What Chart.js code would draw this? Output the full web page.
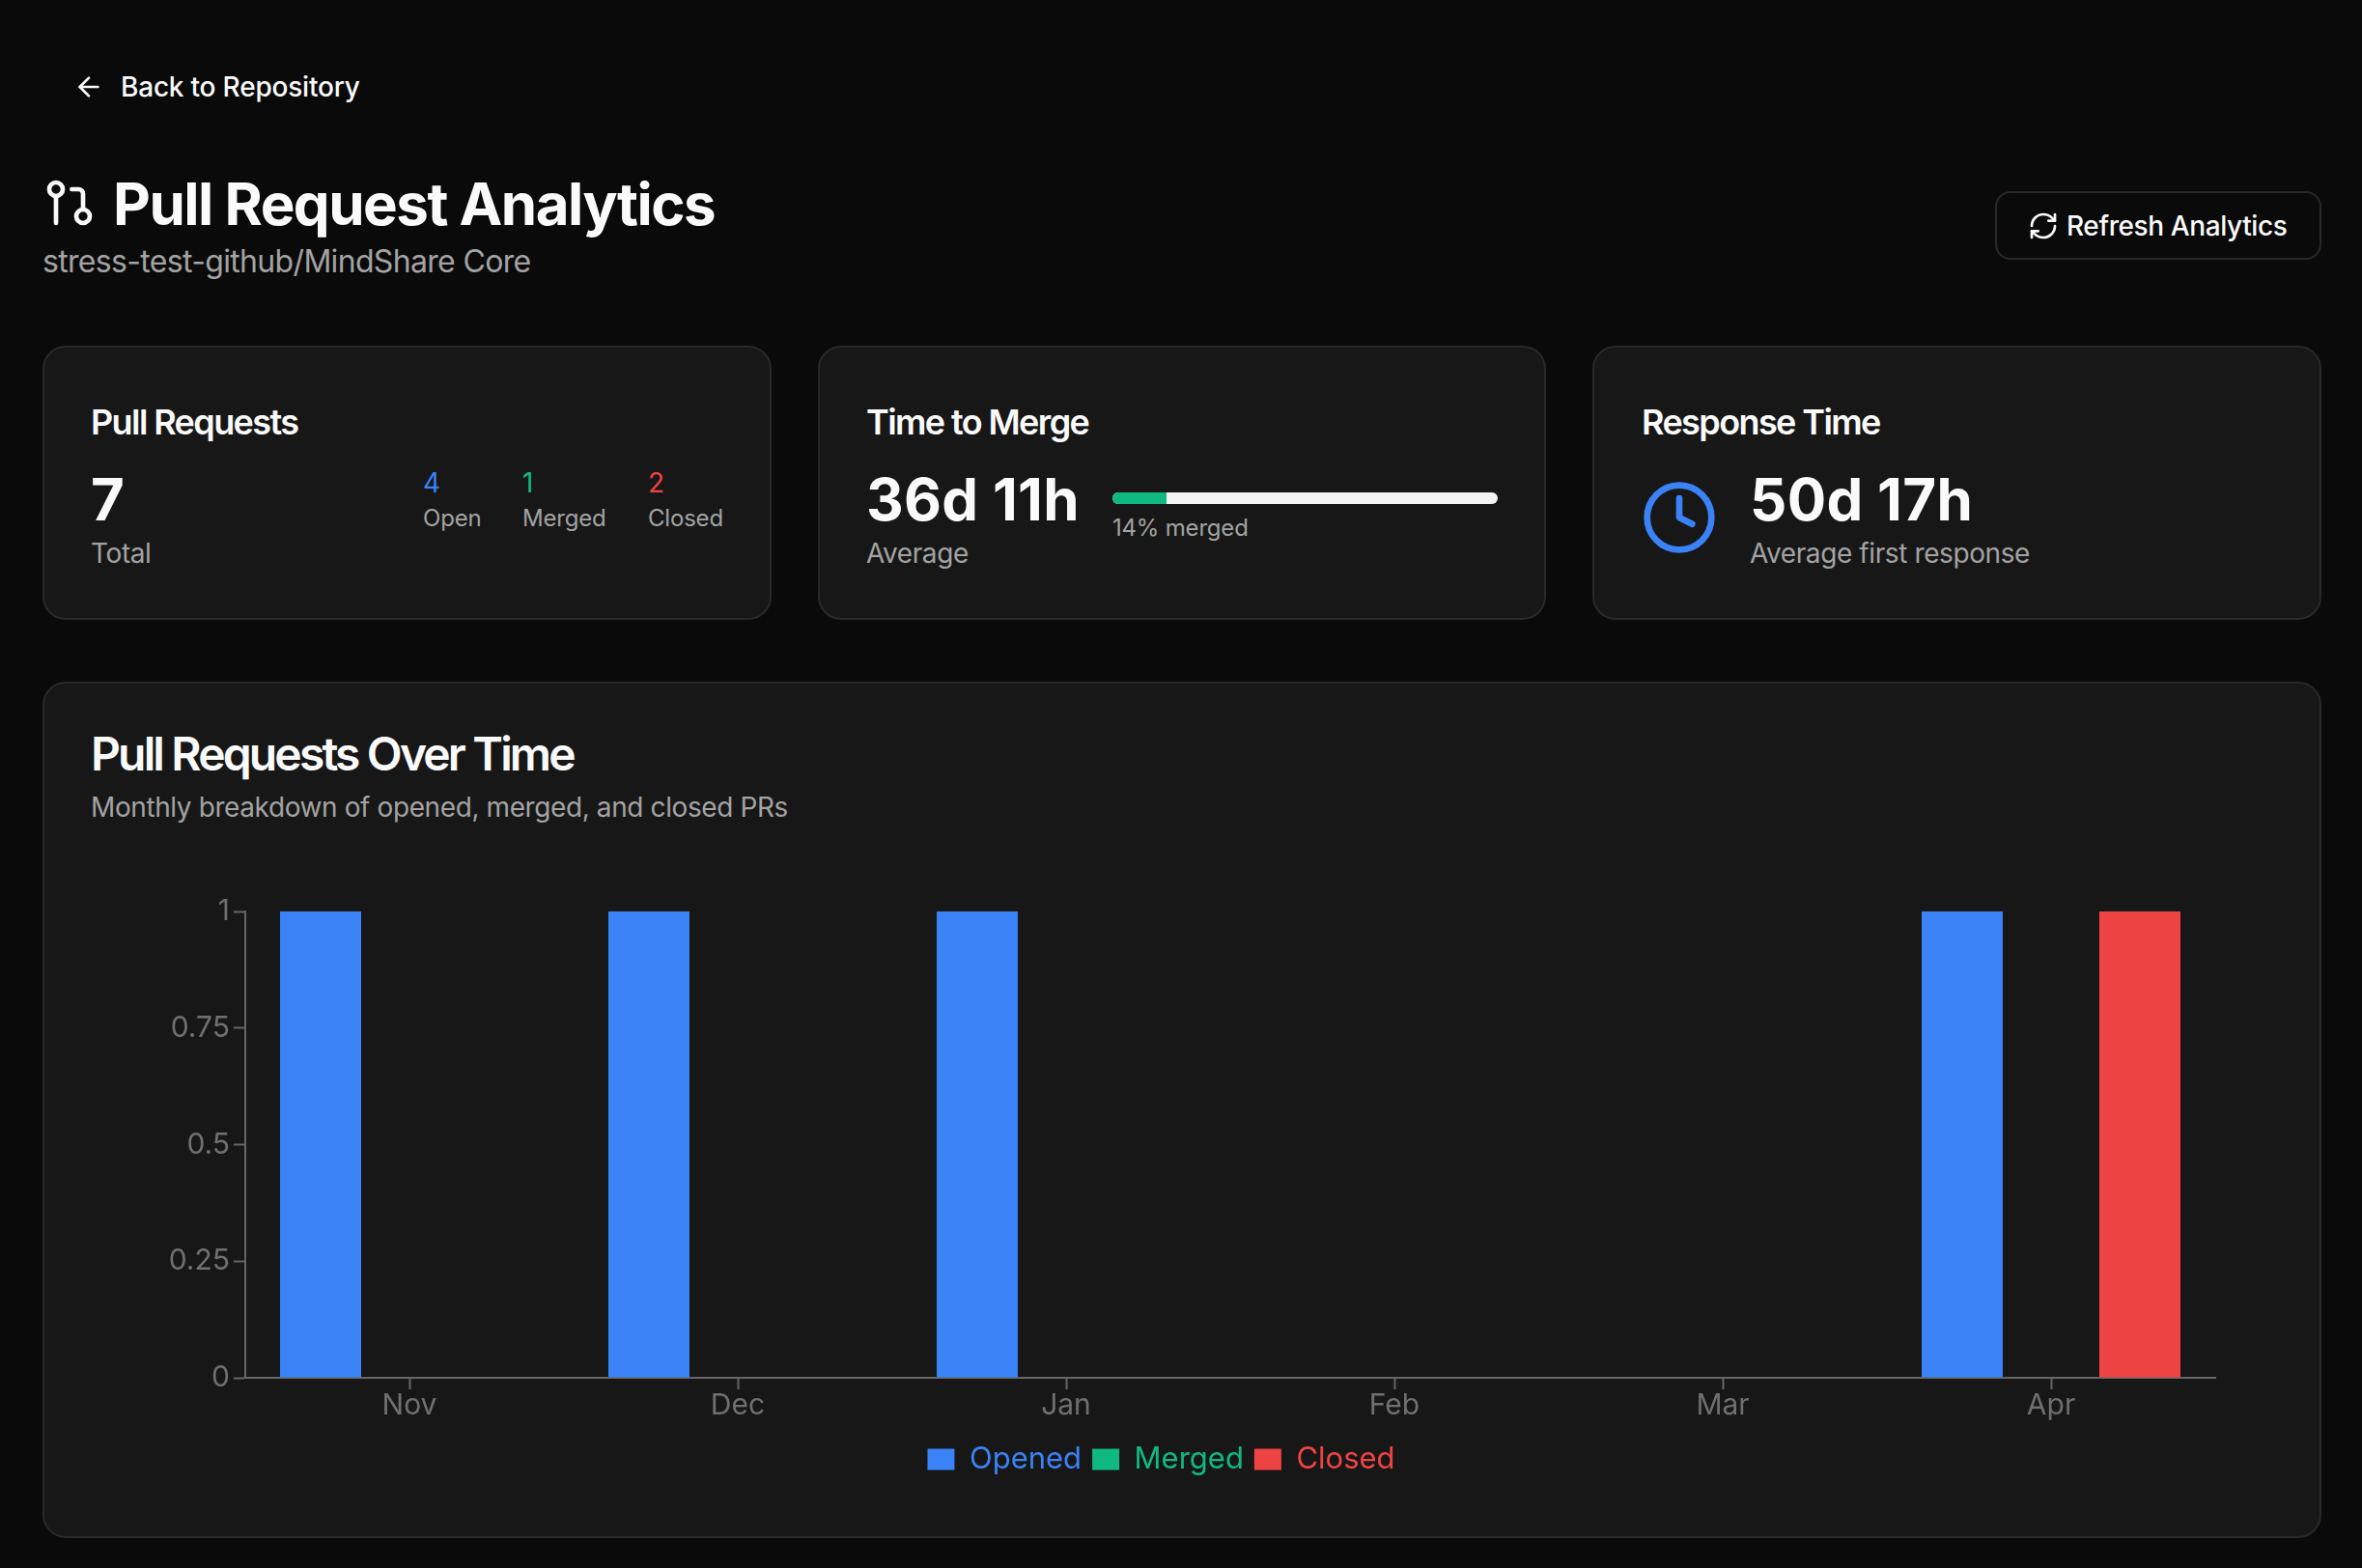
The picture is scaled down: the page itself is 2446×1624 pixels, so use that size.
<!DOCTYPE html>
<html>
<head>
<meta charset="utf-8">
<title>Pull Request Analytics</title>
<script src="https://cdn.jsdelivr.net/npm/chart.js@4/dist/chart.umd.min.js"></script>
<style>
  * { margin: 0; padding: 0; box-sizing: border-box; }
  html, body { width: 2446px; height: 1624px; background: #0a0a0a; overflow: hidden; }
  body { position: relative; font-family: Inter, sans-serif; color: #fafafa; }
  .t { position: absolute; white-space: nowrap; line-height: 1; transform: translateY(-50%); }
  .card { position: absolute; background: #171717; border: 2px solid #292929; border-radius: 24px; }
  .muted { color: #a3a3a3; }
  .card-title { font-size: 36px; font-weight: 600; letter-spacing: -1.6px; }
  .big { font-size: 60px; font-weight: 700; letter-spacing: 0.3px; }
  .sm { font-size: 28px; letter-spacing: -0.4px; }
  .xs { font-size: 24px; letter-spacing: -0.2px; }
  svg { position: absolute; fill: none; stroke-linecap: round; stroke-linejoin: round; stroke-width: 2; }
  #track { position: absolute; left: 1152px; top: 510px; width: 399px; height: 12px; background: #f5f5f5; border-radius: 6px; overflow: hidden; }
  #fill { height: 100%; width: 14%; background: #10b981; }
  #refresh { position: absolute; left: 2066px; top: 198px; width: 338px; height: 71px; border: 2px solid #292929; border-radius: 16px; }
  #chartCanvas { position: absolute; left: 111px; top: 922px; }
</style>
</head>
<body>

<svg style="left:76px;top:74px" width="32" height="32" viewBox="0 0 24 24" stroke="#fafafa"><path d="m12 19-7-7 7-7"/><path d="M19 12H5"/></svg>
<div class="t" style="left:125px;top:90px;font-size:28px;font-weight:500;letter-spacing:-0.2px">Back to Repository</div>

<svg style="left:44px;top:182px" width="56" height="56" viewBox="0 0 24 24" stroke="#fafafa"><circle cx="18" cy="18" r="3"/><circle cx="6" cy="6" r="3"/><path d="M13 6h3a2 2 0 0 1 2 2v7"/><line x1="6" y1="9" x2="6" y2="21"/></svg>
<div class="t" style="left:117px;top:211px;font-size:60px;font-weight:700;letter-spacing:-1.5px">Pull Request Analytics</div>
<div class="t muted" style="left:44px;top:271px;font-size:32px;letter-spacing:-0.67px">stress-test-github/MindShare Core</div>

<div id="refresh"></div>
<svg style="left:2100px;top:218px" width="32" height="32" viewBox="0 0 24 24" stroke="#fafafa"><path d="M3 12a9 9 0 0 1 9-9 9.75 9.75 0 0 1 6.74 2.74L21 8"/><path d="M21 3v5h-5"/><path d="M21 12a9 9 0 0 1-9 9 9.75 9.75 0 0 1-6.74-2.74L3 16"/><path d="M8 16H3v5"/></svg>
<div class="t sm" style="left:2140px;top:234px;font-weight:500">Refresh Analytics</div>

<div class="card" style="left:44px;top:358px;width:755px;height:284px"></div>
<div class="t card-title" style="left:94px;top:437px">Pull Requests</div>
<div class="t big" style="left:94px;top:517px">7</div>
<div class="t sm muted" style="left:94px;top:573px">Total</div>
<div class="t sm" style="left:438px;top:500px;color:#3b82f6">4</div>
<div class="t xs muted" style="left:438px;top:537px">Open</div>
<div class="t sm" style="left:541px;top:500px;color:#10b981">1</div>
<div class="t xs muted" style="left:541px;top:537px">Merged</div>
<div class="t sm" style="left:671px;top:500px;color:#ef4444">2</div>
<div class="t xs muted" style="left:671px;top:537px">Closed</div>

<div class="card" style="left:847px;top:358px;width:754px;height:284px"></div>
<div class="t card-title" style="left:897px;top:437px">Time to Merge</div>
<div class="t big" style="left:897px;top:517px">36d 11h</div>
<div class="t sm muted" style="left:897px;top:573px">Average</div>
<div id="track"><div id="fill"></div></div>
<div class="t xs muted" style="left:1152px;top:547px">14% merged</div>

<div class="card" style="left:1649px;top:358px;width:755px;height:284px"></div>
<div class="t card-title" style="left:1700px;top:437px">Response Time</div>
<svg style="left:1699px;top:496px" width="80" height="80" viewBox="0 0 24 24" stroke="#3b82f6"><circle cx="12" cy="12" r="10"/><polyline points="12 6 12 12 16 14"/></svg>
<div class="t big" style="left:1812px;top:517px">50d 17h</div>
<div class="t sm muted" style="left:1812px;top:573px">Average first response</div>

<div class="card" style="left:44px;top:706px;width:2360px;height:887px"></div>
<div class="t" style="left:94px;top:781px;font-size:48px;font-weight:600;letter-spacing:-2.85px">Pull Requests Over Time</div>
<div class="t sm muted" style="left:94px;top:836px">Monthly breakdown of opened, merged, and closed PRs</div>

<canvas id="chartCanvas" width="2193" height="615"></canvas>

<script>
  const monthLabels = ['Nov', 'Dec', 'Jan', 'Feb', 'Mar', 'Apr'];
  const openedValues = [1, 1, 1, 0, 0, 1];
  const mergedValues = [0, 0, 0, 0, 0, 0];
  const closedValues = [0, 0, 0, 0, 0, 1];

  const BLUE = '#3b82f6';
  const GREEN = '#10b981';
  const RED = '#ef4444';
  const AXIS = '#666666';
  const TICK_TEXT = '#707070';

  const makeSet = (label, values, color) => ({
    label,
    data: values,
    backgroundColor: color,
    categoryPercentage: 0.8118,
    barPercentage: 0.913,
  });

  new Chart(document.getElementById('chartCanvas'), {
    type: 'bar',
    data: {
      labels: monthLabels,
      datasets: [
        makeSet('Opened', openedValues, BLUE),
        makeSet('Merged', mergedValues, GREEN),
        makeSet('Closed', closedValues, RED),
      ],
    },
    options: {
      responsive: false,
      animation: false,
      devicePixelRatio: 1,
      layout: {padding: {top: 20, right: 10}},
      plugins: {
        tooltip: {enabled: false},
        legend: {
          position: 'bottom',
          labels: {
            boxWidth: 28,
            boxHeight: 22,
            padding: 11,
            font: {family: 'Inter', size: 31},
            // kolor tekstu taki jak kolor serii
            generateLabels: chart => chart.data.datasets.map((ds, i) => ({
              text: ds.label,
              fillStyle: ds.backgroundColor,
              strokeStyle: ds.backgroundColor,
              lineWidth: 0,
              fontColor: ds.backgroundColor,
              datasetIndex: i,
            })),
          },
        },
      },
      scales: {
        x: {
          afterFit: scale => { scale.height += 12; },
          grid: {offset: false, drawOnChartArea: false, tickLength: 12, tickColor: AXIS, tickWidth: 2},
          border: {color: AXIS, width: 2},
          ticks: {color: TICK_TEXT, font: {family: 'Inter', size: 30}, padding: -1, maxRotation: 0},
        },
        y: {
          min: 0,
          max: 1,
          afterFit: scale => { scale.width = 143; },
          grid: {drawOnChartArea: false, tickLength: 12, tickColor: AXIS, tickWidth: 2},
          border: {color: AXIS, width: 2},
          ticks: {
            stepSize: 0.25,
            color: TICK_TEXT,
            font: {family: 'Inter', size: 30},
            padding: 4,
            callback: value => String(value),
          },
        },
      },
    },
  });
</script>
</body>
</html>
